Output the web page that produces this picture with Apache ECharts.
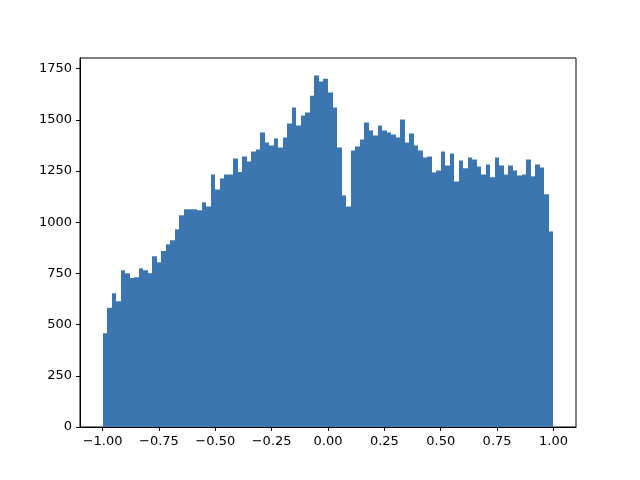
<!DOCTYPE html>
<html>
<head>
<meta charset="utf-8">
<script src="https://cdn.jsdelivr.net/npm/echarts@6/dist/echarts.min.js"></script>
<style>html,body{margin:0;padding:0;background:#fff;}#c{width:640px;height:480px;}</style>
</head>
<body>
<div id="c"></div>
<script>
// Histogram: 100 equal bins over [-1, 1]
const binLow = -1;
const binHigh = 1;
const counts = [
  458, 582, 653, 614, 765, 751, 728, 731, 775, 765,
  751, 834, 804, 860, 892, 912, 965, 1034, 1063, 1063,
  1063, 1058, 1097, 1077, 1233, 1160, 1214, 1233, 1233, 1311,
  1245, 1321, 1297, 1345, 1355, 1438, 1389, 1375, 1409, 1365,
  1414, 1482, 1560, 1472, 1521, 1536, 1618, 1716, 1687, 1701,
  1633, 1560, 1365, 1131, 1077, 1350, 1370, 1404, 1487, 1448,
  1423, 1472, 1448, 1438, 1428, 1414, 1502, 1389, 1433, 1375,
  1350, 1316, 1321, 1243, 1253, 1345, 1277, 1336, 1199, 1301,
  1263, 1316, 1306, 1272, 1233, 1282, 1219, 1316, 1277, 1233,
  1277, 1253, 1228, 1233, 1306, 1224, 1282, 1267, 1136, 955
];
const xTicks = [-1.0, -0.75, -0.5, -0.25, 0.0, 0.25, 0.5, 0.75, 1.0];
const yTicks = [0, 250, 500, 750, 1000, 1250, 1500, 1750];

const binWidth = (binHigh - binLow) / counts.length;
const barData = counts.map((c, i) => [binLow + i * binWidth, binLow + (i + 1) * binWidth, c]);

const maxCount = Math.max(...counts);
const span = binHigh - binLow;

const chart = echarts.init(document.getElementById('c'), null, {renderer: 'canvas'});
const font = 'DejaVu Sans';
chart.setOption({
  animation: false,
  backgroundColor: '#ffffff',
  grid: {left: 80, right: 64, top: 58, bottom: 53, show: true, borderColor: '#000', borderWidth: 1, backgroundColor: 'transparent'},
  xAxis: {
    type: 'value',
    min: binLow - 0.05 * span,
    max: binHigh + 0.05 * span,
    splitLine: {show: false},
    axisLine: {show: true, onZero: false, lineStyle: {color: '#000', width: 1}},
    axisTick: {show: true, length: 4, inside: false, customValues: xTicks, lineStyle: {color: '#000', width: 1}},
    axisLabel: {
      customValues: xTicks, margin: 8, color: '#000', fontSize: 13, fontFamily: font,
      formatter: v => (v < 0 ? '\u2212' : '') + Math.abs(v).toFixed(2)
    }
  },
  yAxis: {
    type: 'value',
    min: 0,
    max: maxCount * 1.05,
    splitLine: {show: false},
    axisLine: {show: true, onZero: false, lineStyle: {color: '#000', width: 1}},
    axisTick: {show: true, length: 4, inside: false, customValues: yTicks, lineStyle: {color: '#000', width: 1}},
    axisLabel: {customValues: yTicks, margin: 8, color: '#000', fontSize: 13, fontFamily: font, formatter: v => String(v)}
  },
  series: [{
    type: 'custom',
    data: barData,
    encode: {x: [0, 1], y: 2},
    z: 1,
    renderItem: function (params, api) {
      const p0 = api.coord([api.value(0), 0]);
      const p1 = api.coord([api.value(1), api.value(2)]);
      const x0 = Math.round(p0[0]);
      const x1 = Math.round(p1[0]);
      return {
        type: 'rect',
        shape: {x: x0, y: p1[1], width: x1 - x0, height: p0[1] - p1[1]},
        style: {fill: '#3b76b0'}
      };
    }
  }]
});
</script>
</body>
</html>
